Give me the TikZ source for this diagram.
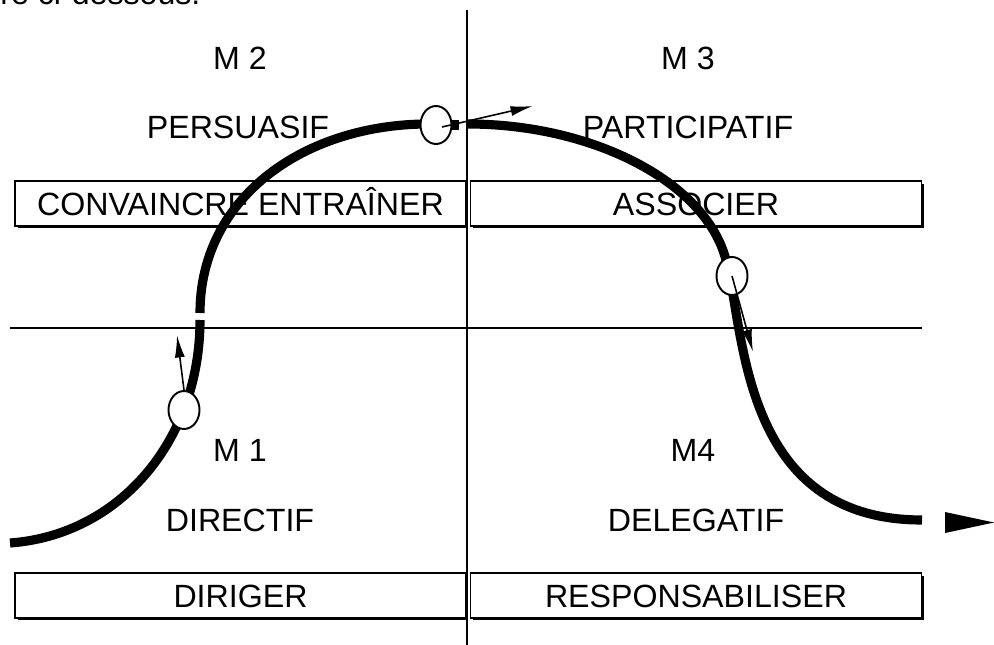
\documentclass[tikz,border=0pt]{standalone}
\usepackage{fontspec}
\setmainfont{Liberation Sans}
\usetikzlibrary{shapes, arrows.meta, shadows, calc, positioning}

\begin{document}
\begin{tikzpicture}[x=0.02cm, y=-0.02cm,
        txt/.style={inner sep=0pt, font=\fontsize{18.3}{21}\selectfont},
        actbox/.style={draw, line width=0.9pt, fill=white, inner sep=0pt,
            minimum width=9.02cm, minimum height=0.9cm,
            text height=13.1pt, text depth=0pt,
            font=\fontsize{18.3}{21}\selectfont,
            drop shadow={shadow xshift=0.05cm, shadow yshift=-0.05cm, fill=black, opacity=1}},
        axis/.style={line width=0.8pt},
        course/.style={line width=5.2pt},
        marker/.style={draw, ellipse, fill=white, line width=1.1pt, inner sep=0pt,
            minimum width=0.62cm, minimum height=0.76cm},
        pointer/.style={line width=0.9pt, -{Latex[length=0.45cm, width=0.2cm]}}]%{{{
    \useasboundingbox (0,0) rectangle (994,645);

    % text of the page above the figure
    \node (intro) [txt, anchor=base west] at (0,5) {re ci-dessous.};

    % axes
    \coordinate (axT) at (467,10);
    \coordinate (axB) at (467,645);
    \coordinate (axL) at (10,328);
    \coordinate (axR) at (922,328);
    \draw [axis] (axT) -- (axB);
    \draw [axis] (axL) -- (axR);

    % quadrant labels
    \node (M2) [txt] at (240,58) {M 2};
    \node (P2) [txt] at (238,127) {PERSUASIF};
    \node (M3) [txt] at (688,58) {M 3};
    \node (P3) [txt] at (688,127) {PARTICIPATIF};
    \node (M1) [txt] at (240,450) {M 1};
    \node (P1) [txt] at (240,520) {DIRECTIF};
    \node (M4) [txt] at (693,450) {M4};
    \node (P4) [txt] at (696,520) {DELEGATIF};

    % action boxes
    \node (B2) [actbox] at (240.5,203.5) {CONVAINCRE ENTRAÎNER};
    \node (B3) [actbox] at (696,203.5) {ASSOCIER};
    \node (B1) [actbox] at (240.5,595.5) {DIRIGER};
    \node (B4) [actbox] at (696,595.5) {RESPONSABILISER};

    % the course
    \coordinate (c0) at (10,543);
    \coordinate (c1) at (200,320);
    \coordinate (c2) at (200,313);
    \coordinate (c3) at (424,124);
    \coordinate (c4) at (468,124);
    \coordinate (c5) at (726,260);
    \coordinate (c6) at (922,520);
    \draw [course] (c0) .. controls (120,535) and (200,440) .. (c1);
    \draw [course] (c2) .. controls (200,200) and (300,126) .. (c3);
    \fill (452,120) rectangle (459,130);
    \draw [course] (c4) .. controls (590,124) and (705,180) .. (c5)
        .. controls (745,330) and (740,520) .. (c6);
    \fill (945,512) -- (994,522.5) -- (945,533) -- cycle;

    % turning points
    \node (E1) [marker] at (184,410) {};
    \node (E2) [marker] at (436,125) {};
    \node (E3) [marker] at (732,276) {};

    \coordinate (T1) at (177,335);
    \coordinate (T2) at (533,106);
    \coordinate (T3) at (753,352);
    \draw [pointer] (E1.north) -- (T1);
    \draw [pointer] ($(E2.center)+(6,2)$) -- (T2);
    \draw [pointer] (E3.center) -- (T3);
\end{tikzpicture}%}}}
\end{document}
